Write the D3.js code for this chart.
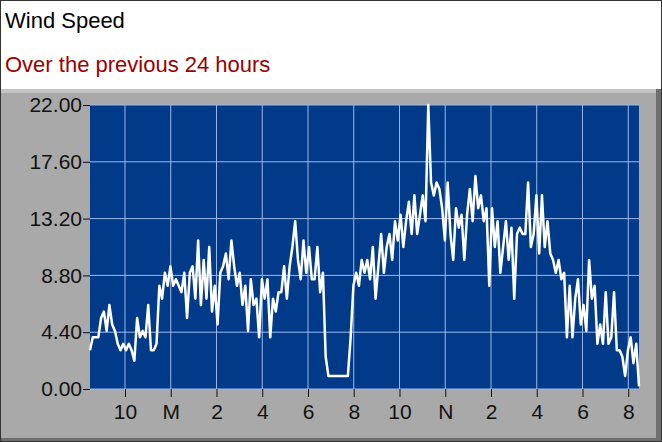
<!DOCTYPE html>
<html><head><meta charset="utf-8">
<script src="https://cdn.jsdelivr.net/npm/d3@7"></script>
<style>body{margin:0;background:#fff;font-family:"Liberation Sans",Arial,sans-serif}</style>
</head><body>
<script>
const title = "Wind Speed";
const subtitle = "Over the previous 24  hours";
const yTicks = [0, 4.4, 8.8, 13.2, 17.6, 22];
const xTickHours = [22, 24, 26, 28, 30, 32, 34, 36, 38, 40, 42, 44];
const xTickLabels = ["10", "M", "2", "4", "6", "8", "10", "N", "2", "4", "6", "8"];
const startHour = 20.47, endHour = 44.47;
const speeds = [3.0,4,4,4,5.5,6,4.5,6.5,5,4.5,3.5,3,3.5,3,3.5,3,2.2,5.5,4,4.5,4,6.5,3,3,3.5,
  8,7,9,8,9.5,8,8.5,8,7.5,9,5.5,9,9.5,7,11.5,6.5,10,7,11,6,8,5,9,9.5,10.5,8.5,11.5,9.5,8,
  9,6.5,8,4.5,8.5,6.5,7,4,8.5,7,8.5,4,7,6,7.5,7.5,9.5,7,9.5,11,13,10,8.5,11.5,9,11,8.5,8.5,11,7.5,9,
  2.5,1,1,1,1,1,1,1,1,4,8,9,8,10,9,10,8.5,11,7,9.5,12,9,11,12,10,13,11.5,13.5,11,
  13,14.5,12,15,12,13.5,15,13,22,16,15,16,15.5,14,11.5,16,12,10,14,12.5,13.5,10,13.5,15.5,13,16.5,14,15,13,
  14,8,14,11,13,9,11,13,10,12.5,7,12,12.5,12,12,16,11,12,15,10.5,15,11,13,
  10.5,10,9,10,8.5,9,4,8,4,7,8.5,5,6.5,4.5,10,7,8,3.5,5,3.5,7.5,3.5,4,7.5,3,3,2.5,1,3,4,2,3.5,0.2];

const W = 662, H = 442;
const svg = d3.select("body").append("svg").attr("width", W).attr("height", H);
svg.append("rect").attr("x", 0.5).attr("y", 0.5).attr("width", W - 1).attr("height", H - 1)
  .attr("fill", "#fff").attr("stroke", "#333");
svg.append("text").attr("x", 5).attr("y", 28).attr("font-size", 22).attr("fill", "#000").text(title);
svg.append("text").attr("x", 5).attr("y", 72).attr("font-size", 22).attr("fill", "#9b0000").text(subtitle);

// gray panel
svg.append("rect").attr("x", 1).attr("y", 89).attr("width", 660).attr("height", 352).attr("fill", "#6e6e6e");
svg.append("rect").attr("x", 1).attr("y", 89).attr("width", 655).attr("height", 349).attr("fill", "#a9a9a9");
svg.append("rect").attr("x", 1).attr("y", 89).attr("width", 655).attr("height", 4).attr("fill", "#c4c4c4");

const m = { l: 90, r: 639, t: 105, b: 389 };
const x = d3.scaleLinear().domain([startHour, endHour]).range([m.l, m.r]);
const y = d3.scaleLinear().domain([0, 22]).range([m.b, m.t]);

svg.append("rect").attr("x", m.l).attr("y", m.t).attr("width", m.r - m.l).attr("height", m.b - m.t)
  .attr("fill", "#023a8a");

const grid = svg.append("g").attr("stroke", "#9bb9ec").attr("stroke-width", 1);
grid.selectAll(".gx").data(xTickHours).join("line")
  .attr("x1", d => x(d)).attr("x2", d => x(d)).attr("y1", m.t).attr("y2", m.b);
grid.selectAll(".gy").data(yTicks).join("line")
  .attr("x1", m.l).attr("x2", m.r).attr("y1", d => y(d)).attr("y2", d => y(d));

const yAxis = svg.append("g").attr("transform", `translate(${m.l},0)`)
  .call(d3.axisLeft(y).tickValues(yTicks).tickFormat(d3.format(".2f")).tickSize(7).tickPadding(1));
const xAxis = svg.append("g").attr("transform", `translate(0,${m.b})`)
  .call(d3.axisBottom(x).tickValues(xTickHours).tickFormat((d, i) => xTickLabels[i]).tickSize(8).tickPadding(7));
[yAxis, xAxis].forEach(a => {
  a.select(".domain").remove();
  a.selectAll("line").attr("stroke", "#111");
  a.selectAll("text").attr("font-size", 21).attr("fill", "#111")
    .attr("font-family", "'Liberation Sans', Arial, sans-serif");
});

const step = (endHour - startHour) / (speeds.length - 1);
svg.append("path").datum(speeds)
  .attr("fill", "none").attr("stroke", "#fff").attr("stroke-width", 2.5).attr("stroke-linejoin", "round")
  .attr("d", d3.line().x((d, i) => x(startHour + i * step)).y(d => y(d)));
</script>
</body></html>
